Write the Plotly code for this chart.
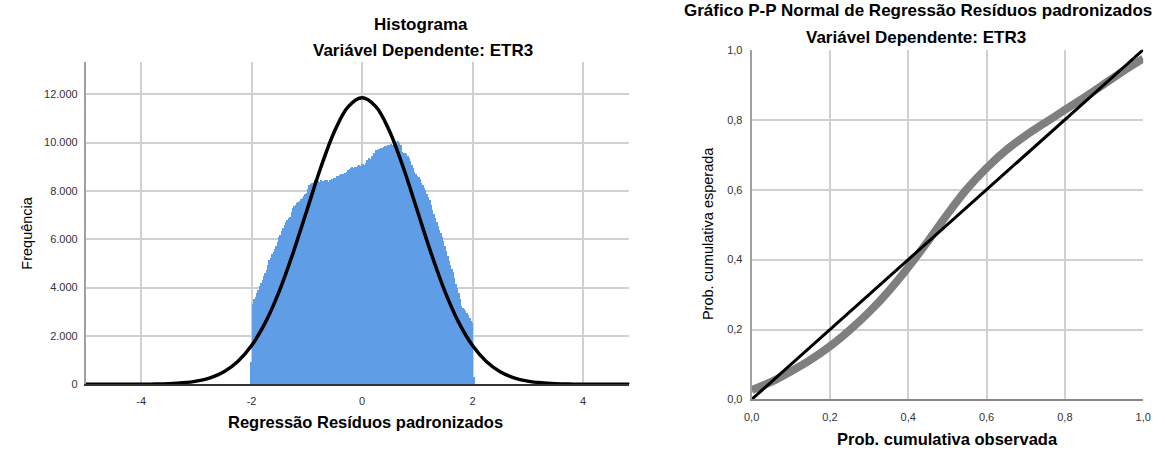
import plotly.graph_objects as go

# ---------------- data ----------------
# Histogram of standardized residuals (bin centers, width 0.025) and counts
bin_start = -2.0
bin_width = 0.025
hist_counts = [
    930, 3350, 3550, 3650, 3780, 3920, 4070, 4200, 4350, 4480,
    4620, 4750, 4950, 5180, 5250, 5400, 5500, 5620, 5730, 5900,
    6100, 6200, 6380, 6480, 6600, 6720, 6800, 6900, 6950, 7150,
    7330, 7380, 7450, 7500, 7560, 7600, 7680, 7730, 7800, 7880,
    7950, 8100, 8270, 8300, 8330, 8380, 8460, 8480, 8420, 8400,
    8450, 8430, 8440, 8480, 8470, 8450, 8400, 8450, 8530, 8520,
    8560, 8570, 8620, 8650, 8680, 8720, 8730, 8700, 8780, 8800,
    8880, 8930, 8970, 9000, 8980, 9000, 9020, 9050, 9070, 9060,
    9130, 9140, 9100, 9180, 9300, 9400, 9350, 9450, 9480, 9600,
    9730, 9700, 9740, 9720, 9790, 9800, 9850, 9870, 9880, 9930,
    9920, 9950, 9930, 10000, 10060, 10040, 10080, 10000, 9900, 9620,
    9600, 9580, 9530, 9480, 9400, 9250, 9100, 8950, 8800, 8720,
    8650, 8600, 8500, 8350, 8250, 8150, 8070, 7900, 7780, 7650,
    7450, 7250, 7080, 6900, 6750, 6580, 6420, 6270, 6130, 5950,
    5750, 5550, 5330, 5130, 4950, 4800, 4650, 4400, 4180, 4000,
    3800, 3550, 3250, 3180, 3120, 3050, 2980, 2880, 2780, 2650,
    2550, 330,
]
hist_centers = [round(bin_start + i * bin_width, 4) for i in range(len(hist_counts))]

# Normal curve overlay
curve_x = [-5.0, -4.5, -4.0, -3.75, -3.5, -3.25, -3.0, -2.75, -2.5, -2.25, -2.0,
           -1.75, -1.5, -1.25, -1.0, -0.75, -0.5, -0.25, 0.0, 0.25, 0.5, 0.75,
           1.0, 1.25, 1.5, 1.75, 2.0, 2.25, 2.5, 2.75, 3.0, 3.25, 3.5, 3.75,
           4.0, 4.5, 5.0]
curve_y = [0, 1, 4, 10, 26, 60, 132, 270, 521, 943, 1604,
           2563, 3847, 5425, 7187, 8945, 10458, 11485, 11850, 11485, 10458, 8945,
           7187, 5425, 3847, 2563, 1604, 943, 521, 270, 132, 60, 26, 10,
           4, 1, 0]

# P-P plot: observed vs expected cumulative probability
pp_observed = [0.0, 0.05, 0.1, 0.15, 0.2, 0.25, 0.3, 0.35, 0.4, 0.45, 0.5,
               0.55, 0.6, 0.65, 0.7, 0.75, 0.8, 0.85, 0.9, 0.95, 1.0]
pp_expected = [0.027, 0.05, 0.08, 0.113, 0.152, 0.198, 0.25, 0.31, 0.378, 0.452, 0.53,
               0.602, 0.662, 0.713, 0.755, 0.792, 0.828, 0.864, 0.902, 0.94, 0.975]
diag_x = [0.0, 1.0]
diag_y = [0.0, 1.0]

# Tick labels
hist_xticks = [-4, -2, 0, 2, 4]
hist_xtick_text = ["-4", "-2", "0", "2", "4"]
hist_yticks = [0, 2000, 4000, 6000, 8000, 10000, 12000]
hist_ytick_text = ["0", "2.000", "4.000", "6.000", "8.000", "10.000", "12.000"]
pp_ticks = [0.0, 0.2, 0.4, 0.6, 0.8, 1.0]
pp_tick_text = ["0,0", "0,2", "0,4", "0,6", "0,8", "1,0"]

# ---------------- figure ----------------
W, H = 1165, 458
FONT = "Liberation Sans, Arial, sans-serif"

def px(x):
    return x / W

def py(y):
    return 1 - y / H

fig = go.Figure()

fig.add_trace(go.Bar(
    x=hist_centers, y=hist_counts, width=bin_width,
    marker=dict(color="#5f9de6", line=dict(width=0)),
    xaxis="x", yaxis="y", showlegend=False,
))
fig.add_trace(go.Scatter(
    x=curve_x, y=curve_y, mode="lines",
    line=dict(color="black", width=3.5, shape="spline", smoothing=1.0),
    xaxis="x", yaxis="y", showlegend=False,
))
fig.add_trace(go.Scatter(
    x=pp_observed, y=pp_expected, mode="lines",
    line=dict(color="#7f7f7f", width=8, shape="spline", smoothing=0.6),
    xaxis="x2", yaxis="y2", showlegend=False,
))
fig.add_trace(go.Scatter(
    x=diag_x, y=diag_y, mode="lines",
    line=dict(color="black", width=3),
    xaxis="x2", yaxis="y2", showlegend=False,
))

grid = dict(showgrid=True, gridcolor="#d0d0d0", gridwidth=1.5, zeroline=False,
            ticks="", tickfont=dict(family=FONT, size=11, color="#333333"))

fig.update_layout(
    width=W, height=H,
    margin=dict(l=0, r=0, t=0, b=0),
    paper_bgcolor="white", plot_bgcolor="white",
    bargap=0,
    font=dict(family=FONT, color="black"),
    xaxis=dict(domain=[px(79), px(630)], range=[-5.0, 4.84], anchor="y",
               tickvals=hist_xticks, ticktext=hist_xtick_text,
               showline=True, linecolor="#333333", linewidth=2,
               ticklabelstandoff=5, **grid),
    yaxis=dict(domain=[py(388.5), py(57)], range=[0, 13350], anchor="x",
               tickvals=hist_yticks, ticktext=hist_ytick_text,
               showline=True, linecolor="#a0a0a0", linewidth=2,
               ticklabelstandoff=4, **grid),
    xaxis2=dict(domain=[px(754), px(1151)], range=[0, 1], anchor="y2",
                tickvals=pp_ticks, ticktext=pp_tick_text,
                showline=True, linecolor="#888888", linewidth=2,
                ticklabelstandoff=6, **grid),
    yaxis2=dict(domain=[py(404), py(45)], range=[0, 1], anchor="x2",
                tickvals=pp_ticks, ticktext=pp_tick_text,
                showline=True, linecolor="#a0a0a0", linewidth=2,
                ticklabelstandoff=5, **grid),
)

def label(text, x, y, size, bold=False, angle=0):
    fig.add_annotation(
        text=f"<b>{text}</b>" if bold else text,
        x=px(x), y=py(y), xref="paper", yref="paper",
        xanchor="center", yanchor="middle", showarrow=False,
        textangle=angle, font=dict(family=FONT, size=size, color="black"),
    )

label("Histograma", 419, 19, 17, bold=True)
label("Variável Dependente: ETR3", 421, 46, 17, bold=True)
label("Regressão Resíduos padronizados", 362, 427, 16.5, bold=True)
label("Frequência", 19, 233, 14.5, angle=-90)

label("Gráfico P-P Normal de Regressão Resíduos padronizados", 923, 5, 17, bold=True)
label("Variável Dependente: ETR3", 921, 32, 17, bold=True)
label("Prob. cumulativa observada", 953, 445, 16.5, bold=True)
label("Prob. cumulativa esperada", 710, 234, 14.5, angle=-90)

fig.write_html("out.html")
